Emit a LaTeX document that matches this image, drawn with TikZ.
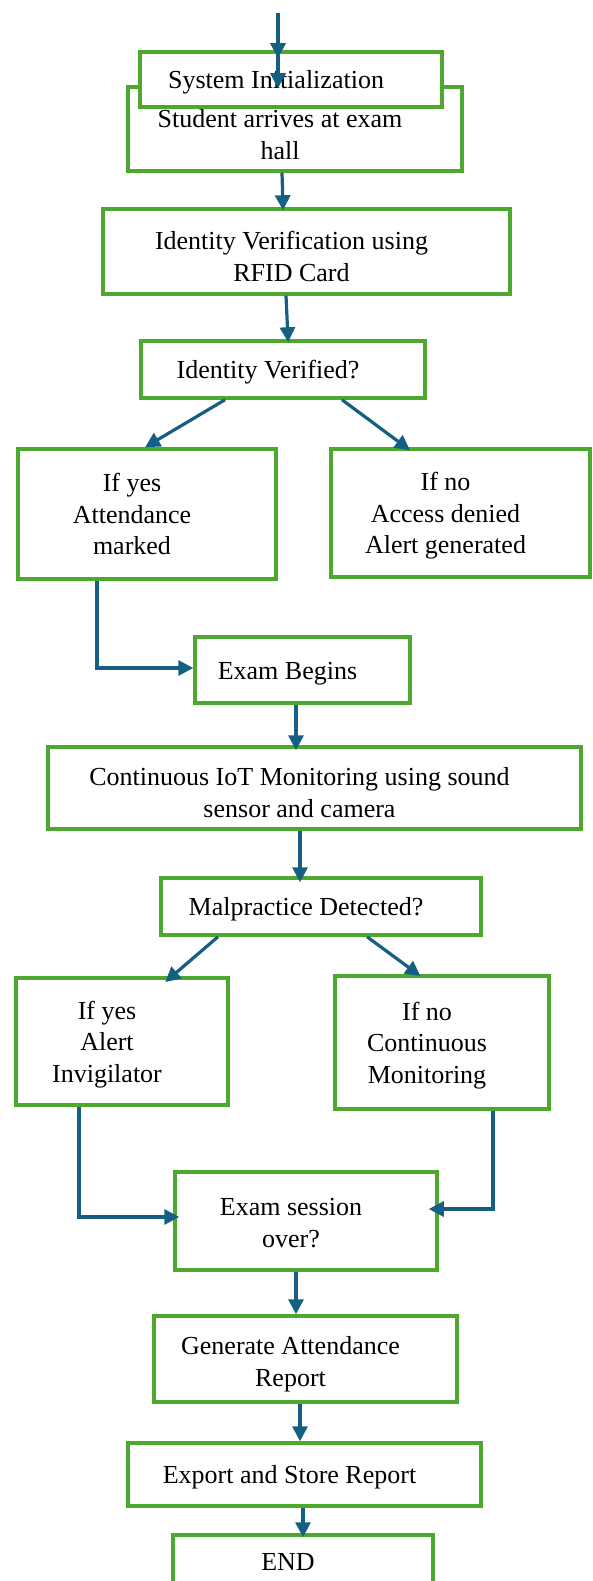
\documentclass[tikz,border=0pt]{standalone}
\usepackage{fontspec}
\setmainfont{Liberation Serif}
\usetikzlibrary{arrows.meta}
\definecolor{boxgreen}{HTML}{4EA72E}
\definecolor{arrblue}{HTML}{156082}
\newcommand\tb[2][28pt]{\begin{tabular}{@{}c@{}}\rule{0pt}{#1}#2\end{tabular}\hspace*{30pt}}
\begin{document}
\begin{tikzpicture}[x=1pt,y=-1pt,
  fbox/.style={draw=boxgreen, line width=3.5pt, fill=white, inner sep=0pt,
    font=\fontsize{26}{31.7}\selectfont},
  arr/.style={draw=arrblue, line width=3.2pt, -{Triangle[length=15pt,width=15pt]}}]
\path[use as bounding box] (0,0) rectangle (592,1581);
\clip (0,0) rectangle (592,1581);
% boxes
\node[fbox, minimum width=334pt, minimum height=84pt] (student) at (295,129) {\tb[38pt]{Student arrives at exam\\hall}};
\node[fbox, minimum width=302pt, minimum height=55pt] (sysinit) at (291,79.5) {\tb{System Initialization}};
\node[fbox, minimum width=407pt, minimum height=85pt] (ident) at (306.5,251.5) {\tb[38pt]{Identity Verification using\\RFID Card}};
\node[fbox, minimum width=284pt, minimum height=57pt] (verified) at (283,369.5) {\tb{Identity Verified?}};
\node[fbox, minimum width=258pt, minimum height=130pt] (yes1) at (147,514) {\tb{If yes\\Attendance\\marked}};
\node[fbox, minimum width=259pt, minimum height=128pt] (no1) at (460.5,513) {\tb{If no\\Access denied\\Alert generated}};
\node[fbox, minimum width=215pt, minimum height=66pt] (begins) at (302.5,670) {\tb{Exam Begins}};
\node[fbox, minimum width=533pt, minimum height=82pt] (cont) at (314.5,788) {\tb[36pt]{Continuous IoT Monitoring using sound\\sensor and camera}};
\node[fbox, minimum width=320pt, minimum height=57pt] (mal) at (321,906.5) {\tb{Malpractice Detected?}};
\node[fbox, minimum width=212pt, minimum height=127pt] (yes2) at (122,1041.5) {\tb{If yes\\Alert\\Invigilator}};
\node[fbox, minimum width=214pt, minimum height=133pt] (no2) at (442,1042.5) {\tb{If no\\Continuous\\Monitoring}};
\node[fbox, minimum width=262pt, minimum height=98pt] (over) at (306,1221) {\tb[30pt]{Exam session\\over?}};
\node[fbox, minimum width=303pt, minimum height=86pt] (gen) at (305.5,1359) {\tb[32pt]{Generate Attendance\\Report}};
\node[fbox, minimum width=353pt, minimum height=63pt] (export) at (304.5,1474.5) {\tb{Export and Store Report}};
\node[fbox, minimum width=260pt, minimum height=52pt] (end) at (303,1561) {\tb{END}};
% connectors
\coordinate (top) at (278,13);
\draw[arr, shorten >=-8pt] (top) -- ([xshift=-13pt]sysinit.north);
\draw[arr, shorten >=-3pt] ([xshift=-13pt]sysinit.north) -- ([xshift=-17pt]student.north);
\draw[arr, shorten >=-3pt] ([xshift=-13pt]student.south) -- ([xshift=-23.5pt]ident.north);
\draw[arr, shorten >=-3pt] ([xshift=-20.5pt]ident.south) -- ([xshift=5pt]verified.north);
\draw[arr] ([xshift=-58pt]verified.south) -- ([xshift=-2pt]yes1.north);
\draw[arr, shorten >=-5pt] ([xshift=59pt]verified.south) -- ([xshift=-54.5pt]no1.north);
\draw[arr] ([xshift=-50pt]yes1.south) |- ([yshift=2pt]begins.west);
\draw[arr, shorten >=-5pt] ([xshift=-6.5pt]begins.south) -- ([xshift=-18.5pt]cont.north);
\draw[arr, shorten >=-6pt] ([xshift=-14.5pt]cont.south) -- ([xshift=-21pt]mal.north);
\draw[arr, shorten >=-9pt] ([xshift=-103pt]mal.south) -- ([xshift=50pt]yes2.north);
\draw[arr, shorten >=-3pt] ([xshift=46pt]mal.south) -- ([xshift=-24pt]no2.north);
\draw[arr, shorten >=-6pt] ([xshift=-43pt]yes2.south) |- ([yshift=4pt]over.west);
\draw[arr, shorten >=-10pt] ([xshift=51pt]no2.south) |- ([yshift=12pt]over.east);
\draw[arr] ([xshift=-10pt]over.south) -- ([xshift=-9.5pt]gen.north);
\draw[arr] ([xshift=-5.5pt]gen.south) -- ([xshift=-4.5pt]export.north);
\draw[arr, shorten >=-4pt] ([xshift=-1.5pt]export.south) -- (end.north);
\end{tikzpicture}
\end{document}
